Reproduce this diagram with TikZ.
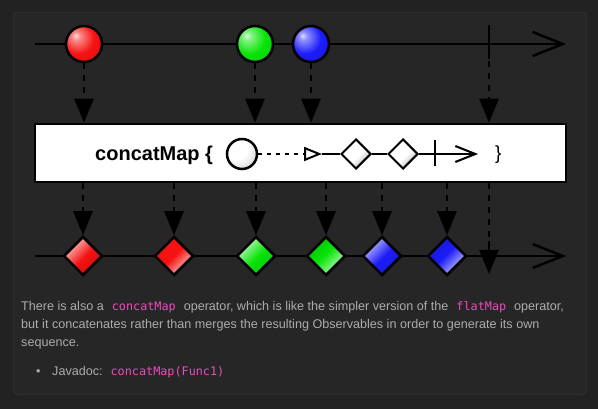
\documentclass[tikz,border=0pt]{standalone}
\usepackage{fontspec}
\setmainfont{Liberation Sans}
\newfontfamily\codefont{DejaVu Sans Mono}
\usetikzlibrary{arrows.meta,shapes.geometric}
\definecolor{pagebg}{RGB}{34,34,34}
\definecolor{panelbg}{RGB}{38,38,38}
\definecolor{panelline}{RGB}{62,62,62}
\definecolor{bodytext}{RGB}{172,172,172}
\definecolor{codepink}{RGB}{234,76,190}
\definecolor{mred}{RGB}{245,18,18}
\definecolor{mgreen}{RGB}{8,228,8}
\definecolor{mblue}{RGB}{28,28,250}
% balls: highlight top-left
\pgfdeclareradialshading{redball}{\pgfpoint{-12bp}{12bp}}{color(0bp)=(white!85!mred); color(6bp)=(white!50!mred); color(22bp)=(mred); color(48bp)=(mred!85!black); color(70bp)=(mred!45!black)}
\pgfdeclareradialshading{greenball}{\pgfpoint{-12bp}{12bp}}{color(0bp)=(white!85!mgreen); color(6bp)=(white!50!mgreen); color(22bp)=(mgreen); color(48bp)=(mgreen!85!black); color(70bp)=(mgreen!45!black)}
\pgfdeclareradialshading{blueball}{\pgfpoint{-12bp}{12bp}}{color(0bp)=(white!85!mblue); color(6bp)=(white!50!mblue); color(22bp)=(mblue); color(48bp)=(mblue!85!black); color(70bp)=(mblue!45!black)}
\pgfdeclareradialshading{whiteball}{\pgfpoint{-12bp}{12bp}}{color(0bp)=(white); color(18bp)=(white); color(42bp)=(black!22); color(60bp)=(black!45); color(75bp)=(black!55)}
% diamonds: vertical shadings, visible range 25bp..75bp after 45 deg rotation
\pgfdeclareverticalshading{redlt}{100bp}{color(0bp)=(mred!85!black); color(25bp)=(mred!85!black); color(48bp)=(mred); color(75bp)=(white!78!mred); color(100bp)=(white!78!mred)}
\pgfdeclareverticalshading{redrb}{100bp}{color(0bp)=(white!80!mred); color(25bp)=(white!80!mred); color(50bp)=(mred); color(75bp)=(mred); color(100bp)=(mred)}
\pgfdeclareverticalshading{greenlt}{100bp}{color(0bp)=(mgreen!88!black); color(25bp)=(mgreen!88!black); color(48bp)=(mgreen); color(75bp)=(white!78!mgreen); color(100bp)=(white!78!mgreen)}
\pgfdeclareverticalshading{greenrb}{100bp}{color(0bp)=(white!78!mgreen); color(25bp)=(white!78!mgreen); color(52bp)=(mgreen); color(75bp)=(mgreen!85!black); color(100bp)=(mgreen!85!black)}
\pgfdeclareverticalshading{bluelt}{100bp}{color(0bp)=(mblue!88!black); color(25bp)=(mblue!88!black); color(48bp)=(mblue); color(75bp)=(white!75!mblue); color(100bp)=(white!75!mblue)}
\pgfdeclareverticalshading{bluerb}{100bp}{color(0bp)=(white!78!mblue); color(25bp)=(white!78!mblue); color(52bp)=(mblue); color(75bp)=(mblue!85!black); color(100bp)=(mblue!85!black)}
\pgfdeclareverticalshading{whitedmd}{100bp}{color(0bp)=(black!32); color(25bp)=(black!32); color(45bp)=(white); color(100bp)=(white)}
\newcommand{\cde}[1]{{\codefont\fontsize{11.8}{14}\selectfont\color{codepink}#1}}
\begin{document}
\begin{tikzpicture}[x=1pt,y=-1pt,
  timeline/.style={line width=2.5pt,-{Straight Barb[length=30pt,width=24pt,line width=2.5pt]}},
  ballnode/.style={circle,draw,line width=2.5pt,minimum size=36pt,inner sep=0pt},
  emitarrow/.style={line width=2.6pt,dash pattern=on 6pt off 6pt,-{Triangle[length=24pt,width=19pt]}},
  endbar/.style={line width=2.5pt},
  dmd/.style={diamond,draw,line width=2.5pt,minimum size=39pt,inner sep=0pt,aspect=1,shading angle=45},
  smalldmd/.style={diamond,draw,line width=2pt,minimum size=30pt,inner sep=0pt,aspect=1,
     shading=whitedmd,shading angle=45},
  bodyline/.style={anchor=base west,inner sep=0pt,text=bodytext,font=\fontsize{12.6}{16}\selectfont}
]
\fill[pagebg] (0,0) rectangle (598,409);
\useasboundingbox (0,0) rectangle (598,409);
\draw[panelline,fill=panelbg,rounded corners=3pt] (13.5,12.5) rectangle (586.5,394.5);

% top timeline
\coordinate (tl0) at (35,44);
\coordinate (tl1) at (566,44);
\draw[timeline] (tl0) -- (tl1);
\node[ballnode,shading=redball] (r1) at (84,44) {};
\node[ballnode,shading=greenball] (g1) at (255,44) {};
\node[ballnode,shading=blueball] (b1) at (311,44) {};
\coordinate (tend) at (489,44);
\draw[endbar] ([yshift=-15pt]tend) -- ([yshift=19pt]tend) coordinate (tendb);

% operator box
\node[draw,fill=white,line width=2.5pt,minimum width=531pt,minimum height=58pt,inner sep=0pt] (box) at (300.5,153) {};
\node[anchor=base west,inner sep=0pt,font=\bfseries\fontsize{20}{24}\selectfont] (lbl) at (95,161) {concatMap \{};
\node[circle,draw,line width=2.5pt,minimum size=30pt,inner sep=0pt,shading=whiteball] (c0) at (242,154) {};
\coordinate (tri) at (322,154);
\draw[line width=2pt,dash pattern=on 4pt off 5pt,-{Triangle[open,length=18pt,width=14pt,line width=2pt]}] (c0.east) -- (tri);
\node[smalldmd] (dm1) at (356,154) {};
\node[smalldmd] (dm2) at (403,154) {};
\draw[line width=2pt] (tri) -- (dm1.west);
\draw[line width=2pt] (dm1.east) -- (dm2.west);
\coordinate (iend) at (478,154);
\draw[line width=2pt,-{Straight Barb[length=20pt,width=16pt,line width=2pt]}] (dm2.east) -- (iend);
\coordinate (ibar) at (435,153);
\draw[line width=2pt] ([yshift=-13pt]ibar) -- ([yshift=13pt]ibar);
\node[anchor=base west,inner sep=0pt,font=\fontsize{19}{22}\selectfont] (rbrace) at (495,160) {\}};

% arrows into box
\draw[emitarrow] (r1.south) -- (r1.south |- box.north);
\draw[emitarrow] (g1.south) -- (g1.south |- box.north);
\draw[emitarrow] (b1.south) -- (b1.south |- box.north);
\draw[emitarrow] (tendb) -- (tendb |- box.north);

% bottom timeline
\coordinate (bl0) at (35,256);
\coordinate (bl1) at (566,256);
\draw[timeline] (bl0) -- (bl1);
\node[dmd,shading=redlt] (d1) at (83,256) {};
\node[dmd,shading=redrb] (d2) at (174,256) {};
\node[dmd,shading=greenlt] (d3) at (256,256) {};
\node[dmd,shading=greenrb] (d4) at (326,256) {};
\node[dmd,shading=bluelt] (d5) at (382,256) {};
\node[dmd,shading=bluerb] (d6) at (447,256) {};
\coordinate (bend) at (489,256);
\draw[endbar] ([yshift=-14pt]bend) coordinate (bendt) -- ([yshift=15pt]bend);

\foreach \d in {d1,d2,d3,d4,d5,d6}
  \draw[emitarrow] (\d.north |- box.south) -- (\d.north);
\draw[emitarrow] (bendt |- box.south) -- ([yshift=-4pt]bendt);

% description text
\node[bodyline] (t1) at (21,311) {There is also a\hspace{8pt}\cde{concatMap}\hspace{8pt}operator, which is like the simpler version of the\hspace{8pt}\cde{flatMap}\hspace{8pt}operator,};
\node[bodyline] (t2) at (21,329) {but it concatenates rather than merges the resulting Observables in order to generate its own};
\node[bodyline] (t3) at (21,347) {sequence.};
\node[bodyline] (bul) at (36,375) {\textbullet};
\node[bodyline] (t4) at (52,375) {Javadoc:\hspace{8pt}\cde{concatMap(Func1)}};
\end{tikzpicture}
\end{document}
